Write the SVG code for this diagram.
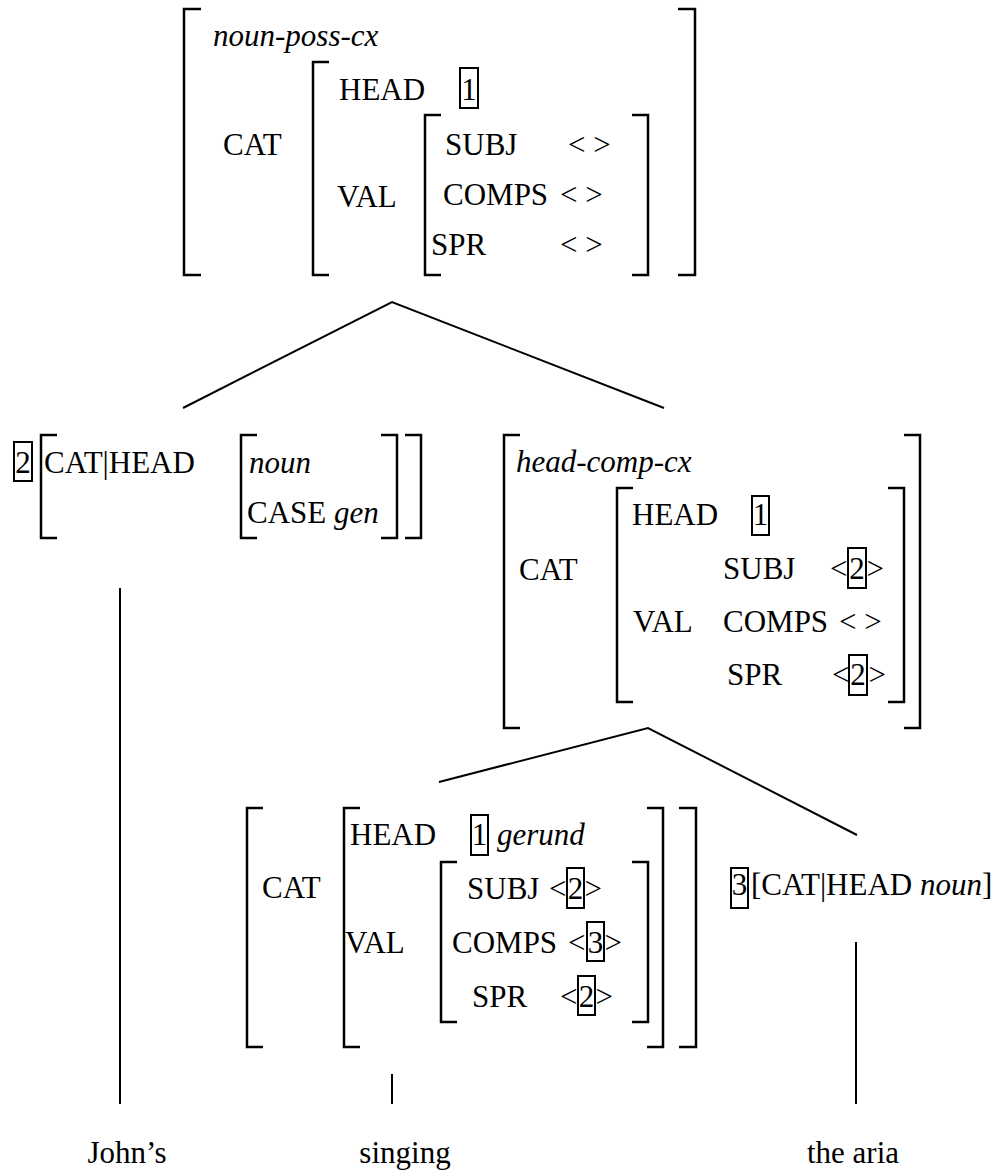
<svg xmlns="http://www.w3.org/2000/svg" width="1003" height="1176" viewBox="0 0 1003 1176">
<style>
.t{font-family:"Liberation Serif","Times New Roman",serif;font-size:31px;fill:#000}
.i{font-style:italic}
.br{fill:none;stroke:#000;stroke-width:2.5}
.bx{fill:none;stroke:#000;stroke-width:2}
.ln{fill:none;stroke:#000;stroke-width:2}
.m{text-anchor:middle}
.e{text-anchor:end}
</style>
<rect width="1003" height="1176" fill="#fff"/>
<g id="connectors">
<path class="ln" d="M183 408 L392 302 L664 408"/>
<path class="ln" d="M120 588 V1104"/>
<path class="ln" d="M439 782 L648 728 L857 835"/>
<path class="ln" d="M392 1074 V1104"/>
<path class="ln" d="M856 942 V1104"/>
</g>
<g id="n-top">
<path class="br" d="M201 9 H184 V275 H201"/>
<path class="br" d="M678 9 H695 V275 H678"/>
<path class="br" d="M329 62 H313 V275 H329"/>
<path class="br" d="M441 115 H425 V275 H441"/>
<path class="br" d="M632 115 H648 V275 H632"/>
<text class="t i" x="213" y="46">noun-poss-cx</text>
<text class="t" x="339" y="100">HEAD</text>
<rect class="bx" x="460" y="68" width="18" height="40"/>
<text class="t m" x="469" y="100">1</text>
<text class="t" x="223" y="155">CAT</text>
<text class="t" x="445" y="155">SUBJ</text>
<text class="t" x="568" y="155">&lt; &gt;</text>
<text class="t" x="337" y="207">VAL</text>
<text class="t" x="443" y="205">COMPS</text>
<text class="t" x="560" y="205">&lt; &gt;</text>
<text class="t" x="431" y="255">SPR</text>
<text class="t" x="560" y="255">&lt; &gt;</text>
</g>
<g id="n-johns">
<rect class="bx" x="14" y="442" width="18" height="39"/>
<text class="t m" x="23" y="473">2</text>
<path class="br" d="M57 435 H41 V538 H57"/>
<text class="t" x="44" y="473">CAT|HEAD</text>
<path class="br" d="M257 435 H241 V538 H257"/>
<text class="t i" x="249" y="473">noun</text>
<text class="t" x="247" y="523">CASE <tspan class="i">gen</tspan></text>
<path class="br" d="M381 435 H397 V538 H381"/>
<path class="br" d="M405 435 H421 V538 H405"/>
</g>
<g id="n-headcomp">
<path class="br" d="M520 435 H504 V728 H520"/>
<path class="br" d="M904 435 H920 V728 H904"/>
<path class="br" d="M633 488 H617 V702 H633"/>
<path class="br" d="M888 488 H904 V702 H888"/>
<text class="t i" x="516" y="472">head-comp-cx</text>
<text class="t" x="519" y="580">CAT</text>
<text class="t" x="632" y="525">HEAD</text>
<rect class="bx" x="752" y="496" width="17" height="39"/>
<text class="t m" x="760.5" y="525">1</text>
<text class="t" x="723" y="579">SUBJ</text>
<text class="t" x="830" y="579">&lt;</text>
<rect class="bx" x="848" y="548" width="18" height="40"/>
<text class="t m" x="857" y="579">2</text>
<text class="t e" x="884" y="579">&gt;</text>
<text class="t" x="633" y="632">VAL</text>
<text class="t" x="723" y="632">COMPS</text>
<text class="t" x="839" y="632">&lt; &gt;</text>
<text class="t" x="727" y="685">SPR</text>
<text class="t" x="832" y="685">&lt;</text>
<rect class="bx" x="849" y="655" width="18" height="40"/>
<text class="t m" x="858" y="685">2</text>
<text class="t e" x="886" y="685">&gt;</text>
</g>
<g id="n-singing">
<path class="br" d="M263 808 H247 V1047 H263"/>
<path class="br" d="M679 808 H696 V1047 H679"/>
<path class="br" d="M360 808 H344 V1047 H360"/>
<path class="br" d="M647 808 H663 V1047 H647"/>
<path class="br" d="M457 862 H441 V1022 H457"/>
<path class="br" d="M632 862 H648 V1022 H632"/>
<text class="t" x="262" y="898">CAT</text>
<text class="t" x="350" y="845">HEAD</text>
<rect class="bx" x="471" y="815" width="17" height="40"/>
<text class="t m" x="479.5" y="845">1</text>
<text class="t i" x="497" y="845">gerund</text>
<text class="t" x="345" y="953">VAL</text>
<text class="t" x="467" y="899">SUBJ</text>
<text class="t" x="549" y="899">&lt;</text>
<rect class="bx" x="567" y="868" width="17" height="40"/>
<text class="t m" x="575.5" y="899">2</text>
<text class="t e" x="602" y="899">&gt;</text>
<text class="t" x="452" y="953">COMPS</text>
<text class="t" x="568" y="953">&lt;</text>
<rect class="bx" x="587" y="922" width="17" height="39"/>
<text class="t m" x="595.5" y="953">3</text>
<text class="t e" x="622" y="953">&gt;</text>
<text class="t" x="472" y="1007">SPR</text>
<text class="t" x="560" y="1007">&lt;</text>
<rect class="bx" x="578" y="976" width="17" height="39"/>
<text class="t m" x="586.5" y="1007">2</text>
<text class="t e" x="613" y="1007">&gt;</text>
</g>
<g id="n-aria">
<rect class="bx" x="731" y="868" width="17" height="40"/>
<text class="t m" x="739.5" y="895">3</text>
<text class="t" x="751" y="895">[CAT|HEAD <tspan class="i">noun</tspan>]</text>
</g>
<g id="words">
<text class="t m" x="127" y="1163">John’s</text>
<text class="t m" x="405" y="1163">singing</text>
<text class="t m" x="853" y="1163">the aria</text>
</g>
</svg>
